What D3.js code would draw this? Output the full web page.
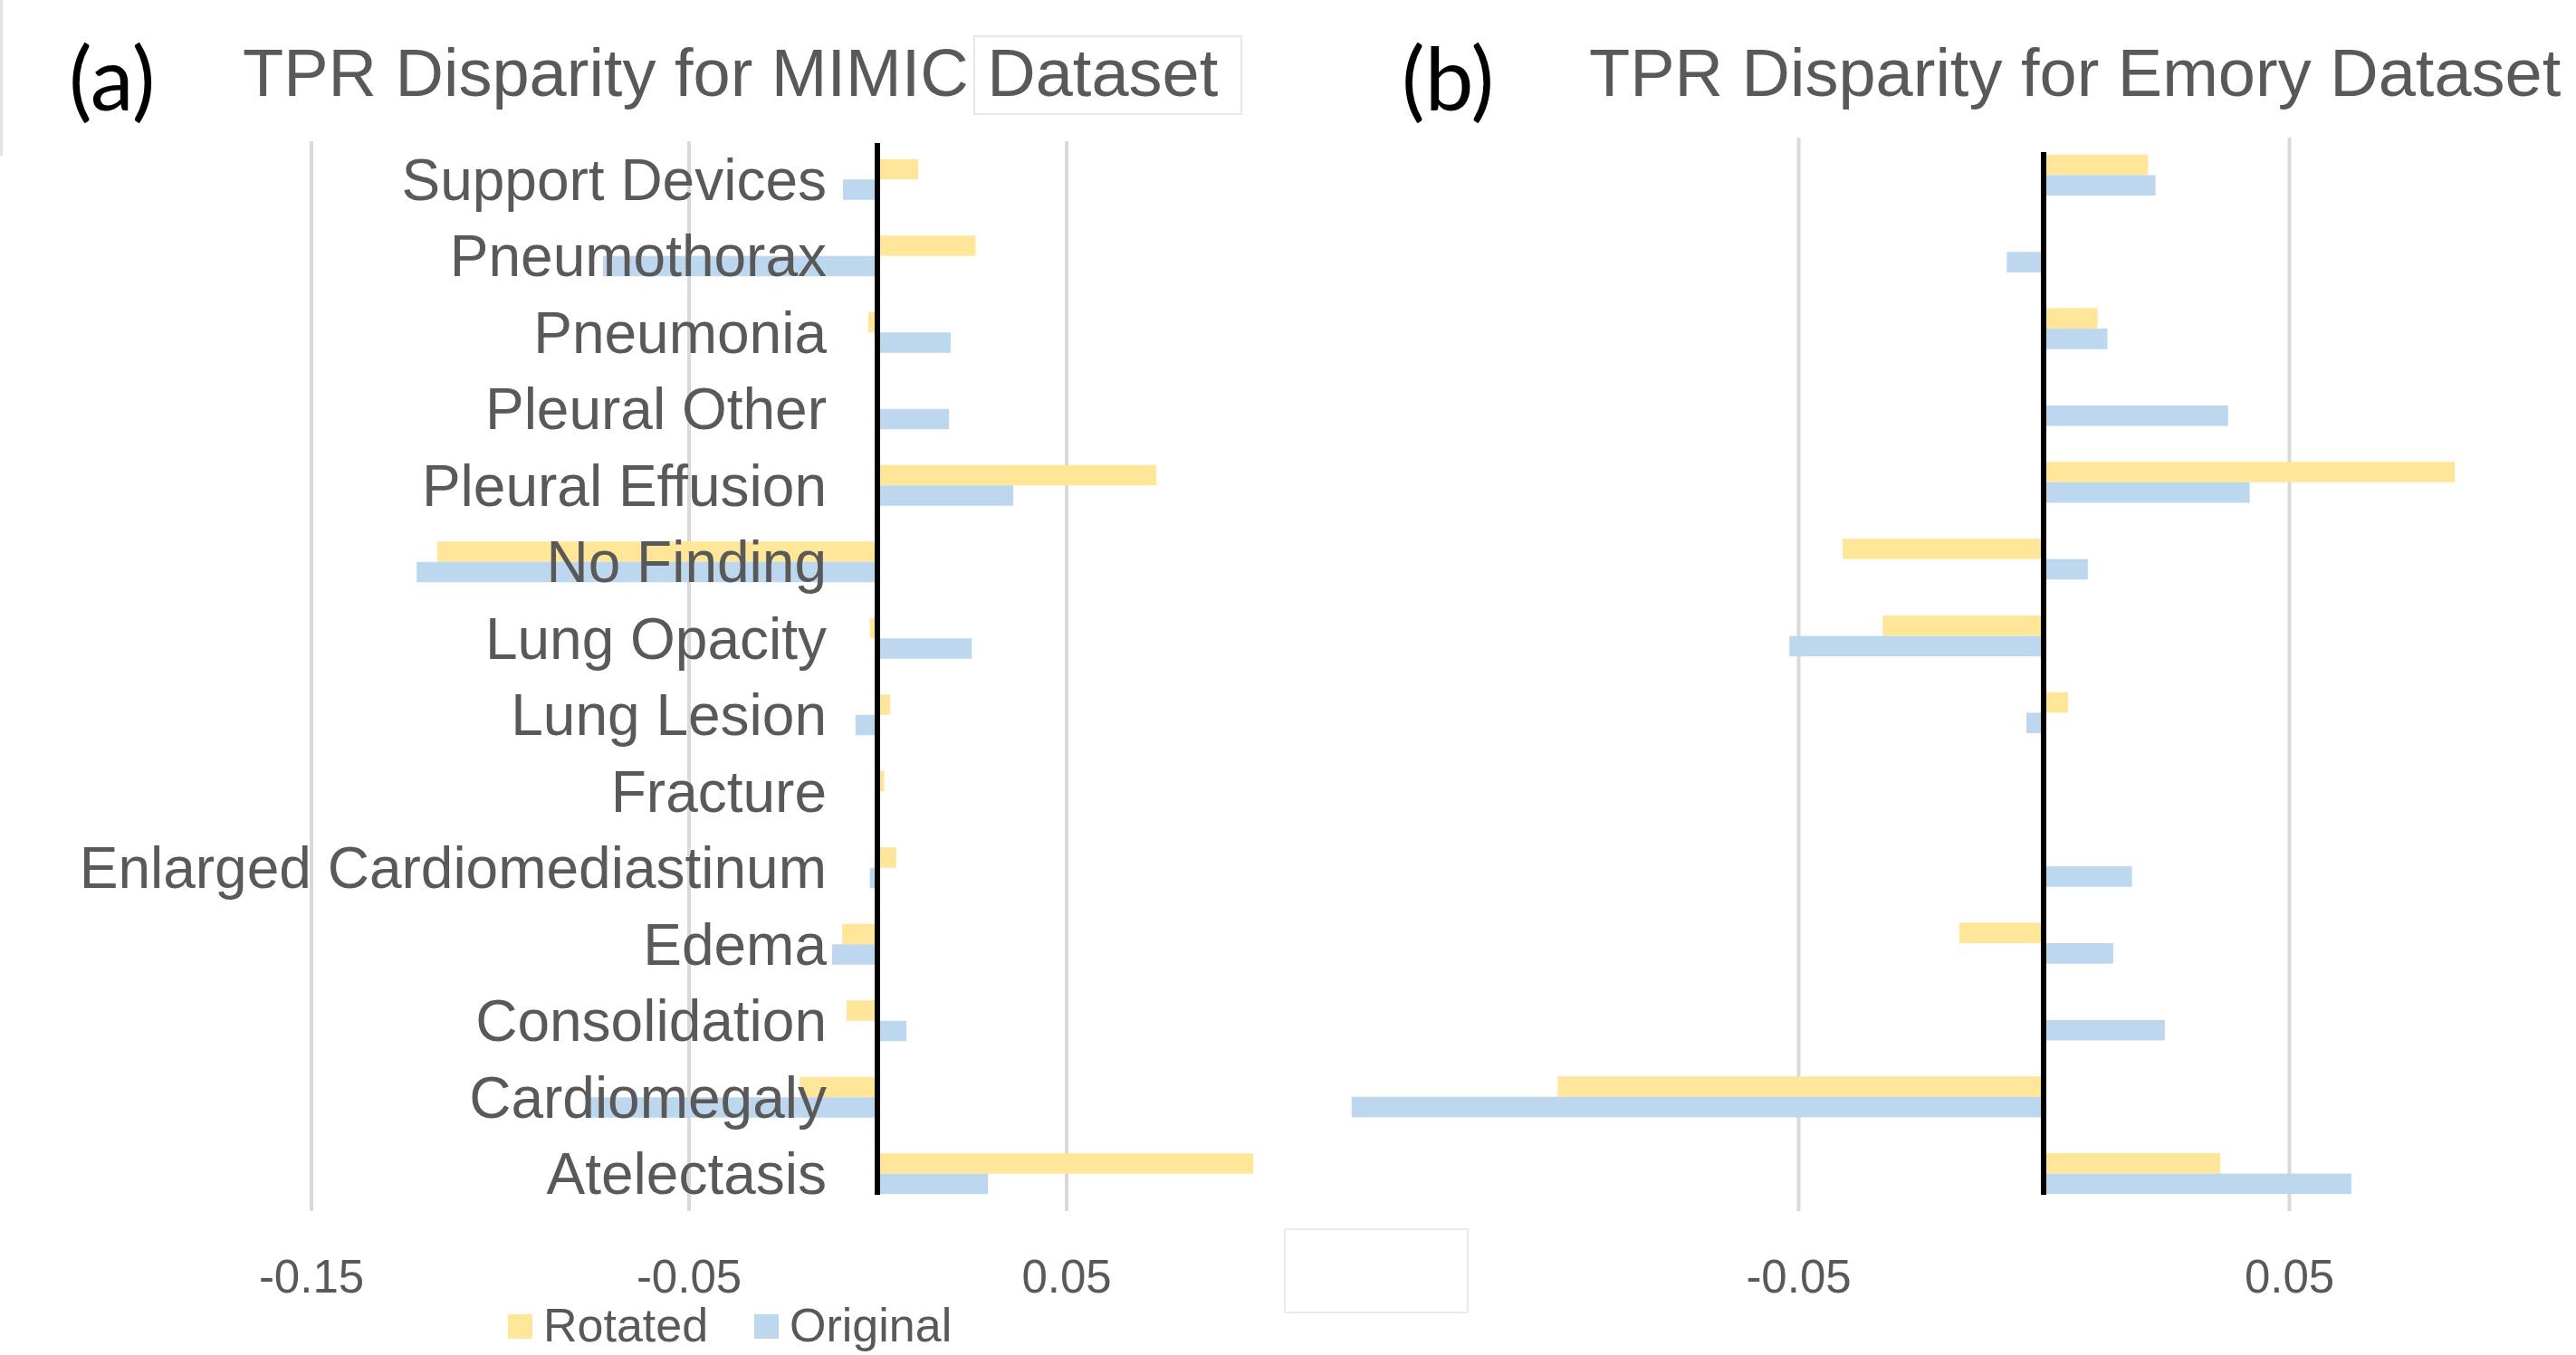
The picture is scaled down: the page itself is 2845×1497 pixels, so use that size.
<!DOCTYPE html>
<meta charset="utf-8">
<style>
  body { margin: 0; background: #fff; }
  svg { display: block; }
  .cat, .tick-label, .title, .legend { font-family: "Liberation Sans", Arial, sans-serif; fill: #595959; }
  .tag { font-family: Lato, "Open Sans", sans-serif; fill: #000; }
</style>
<body>
<div id="chart"></div>
<script src="https://d3js.org/d3.v7.min.js"></script>
<script>

  // categories, top to bottom
  var categories = ["Support Devices", "Pneumothorax", "Pneumonia", "Pleural Other",
    "Pleural Effusion", "No Finding", "Lung Opacity", "Lung Lesion", "Fracture",
    "Enlarged Cardiomediastinum", "Edema", "Consolidation", "Cardiomegaly", "Atelectasis"];
  var series = ["Rotated", "Original"];

  // TPR disparity values
  var mimicRotated  = [0.0108, 0.026, -0.0024, 0, 0.0739, -0.1166, -0.002, 0.0034, 0.0018, 0.005, -0.0093, -0.0082, -0.0206, 0.0995];
  var mimicOriginal = [-0.0091, -0.0727, 0.0194, 0.019, 0.036, -0.122, 0.025, -0.0058, 0, -0.002, -0.012, 0.0077, -0.0775, 0.0293];
  var emoryRotated  = [0.0213, 0, 0.011, 0, 0.0838, -0.041, -0.0328, 0.005, 0, 0, -0.0172, 0, -0.099, 0.036];
  var emoryOriginal = [0.0228, -0.0075, 0.013, 0.0376, 0.042, 0.009, -0.0518, -0.0035, 0, 0.018, 0.0142, 0.0247, -0.141, 0.0627];

  var mimicTicks = [-0.15, -0.05, 0.05];
  var mimicTickLabels = ["-0.15", "-0.05", "0.05"];
  var emoryTicks = [-0.05, 0.05];
  var emoryTickLabels = ["-0.05", "0.05"];

  var colors = { "Rotated": "#FFE699", "Original": "#BDD7EE" };

  var W = 2845, H = 1497;
  var svg = d3.select("#chart").append("svg")
    .attr("width", W).attr("height", H)
    .attr("viewBox", "0 0 " + W + " " + H);

  // faint screenshot leftovers
  svg.append("line").attr("x1", 1.5).attr("x2", 1.5).attr("y1", 0).attr("y2", 172)
    .attr("stroke", "#e3e3e3").attr("stroke-width", 3);
  svg.append("rect").attr("x", 1076).attr("y", 40).attr("width", 295).attr("height", 86)
    .attr("fill", "#fff").attr("stroke", "#e8e8e8").attr("stroke-width", 2);
  svg.append("rect").attr("x", 1419).attr("y", 1358).attr("width", 202).attr("height", 92)
    .attr("fill", "#fff").attr("stroke", "#ebebeb").attr("stroke-width", 2);

  var panels = [
    { tag: "(a)", tagX: 76, title: "TPR Disparity for MIMIC Dataset", titleX: 268,
      rotated: mimicRotated, original: mimicOriginal,
      domain: [-0.15, 0.1], range: [343.5, 1386], yRange: [156, 1339],
      gridTop: 156, zeroTop: 158, ticks: mimicTicks, tickLabels: mimicTickLabels, labels: true },
    { tag: "(b)", tagX: 1548, title: "TPR Disparity for Emory Dataset", titleX: 1755,
      rotated: emoryRotated, original: emoryOriginal,
      domain: [-0.05, 0.05], range: [1986, 2528], yRange: [151, 1339],
      gridTop: 152, zeroTop: 168, ticks: emoryTicks, tickLabels: emoryTickLabels, labels: false }
  ];

  panels.forEach(function (p) {
    var g = svg.append("g");

    var x = d3.scaleLinear().domain(p.domain).range(p.range);
    var y = d3.scaleBand().domain(categories).range(p.yRange)
      .paddingInner(0.467).paddingOuter(0.2335);
    var ySub = d3.scaleBand().domain(series).range([0, y.bandwidth()]);

    // gridlines
    var grid = g.append("g")
      .attr("transform", "translate(0," + 1338 + ")")
      .call(d3.axisBottom(x).tickValues(p.ticks).tickSize(-(1338 - p.gridTop)).tickFormat(""));
    grid.select(".domain").remove();
    grid.selectAll(".tick line").attr("stroke", "#d9d9d9").attr("stroke-width", 4);

    // tick labels
    var ax = g.append("g")
      .attr("transform", "translate(0," + 1428 + ")")
      .call(d3.axisBottom(x).tickValues(p.ticks).tickSize(0)
        .tickFormat(function (d, i) { return p.tickLabels[i]; }));
    ax.select(".domain").remove();
    ax.selectAll(".tick text")
      .attr("class", "tick-label")
      .attr("y", 0).attr("dy", 0)
      .attr("font-size", 51)
      .attr("fill", "#595959");

    // bars
    var rows = categories.map(function (c, i) {
      return { cat: c, values: [
        { s: "Rotated", v: p.rotated[i] },
        { s: "Original", v: p.original[i] }] };
    });
    g.selectAll(".row").data(rows).enter().append("g")
      .attr("transform", function (d) { return "translate(0," + y(d.cat) + ")"; })
      .selectAll("rect").data(function (d) { return d.values; }).enter().append("rect")
      .attr("x", function (d) { return x(Math.min(0, d.v)); })
      .attr("y", function (d) { return ySub(d.s); })
      .attr("width", function (d) { return Math.abs(x(d.v) - x(0)); })
      .attr("height", ySub.bandwidth())
      .attr("fill", function (d) { return colors[d.s]; });

    // zero axis line
    g.append("line")
      .attr("x1", x(0)).attr("x2", x(0))
      .attr("y1", p.zeroTop).attr("y2", 1320)
      .attr("stroke", "#000").attr("stroke-width", 6);

    // category labels
    if (p.labels) {
      g.selectAll(".cat").data(categories).enter().append("text")
        .attr("class", "cat")
        .attr("x", 913)
        .attr("y", function (d) { return y(d) + y.bandwidth() / 2; })
        .attr("dy", "0.35em")
        .attr("text-anchor", "end")
        .attr("font-size", 64)
        .text(function (d) { return d; });
    }

    // titles
    g.append("text").attr("class", "tag")
      .attr("x", p.tagX).attr("y", 122).attr("font-size", 96).text(p.tag);
    g.append("text").attr("class", "title")
      .attr("x", p.titleX).attr("y", 106).attr("font-size", 74).text(p.title);
  });

  // legend
  var legendX = { "Rotated": 561, "Original": 833 };
  var lg = svg.selectAll(".leg").data(series).enter().append("g")
    .attr("transform", function (d) { return "translate(" + legendX[d] + ",0)"; });
  lg.append("rect").attr("x", 0).attr("y", 1452).attr("width", 27).attr("height", 27)
    .attr("fill", function (d) { return colors[d]; });
  lg.append("text").attr("class", "legend")
    .attr("x", 39).attr("y", 1482).attr("font-size", 52)
    .text(function (d) { return d; });

</script>
</body>
